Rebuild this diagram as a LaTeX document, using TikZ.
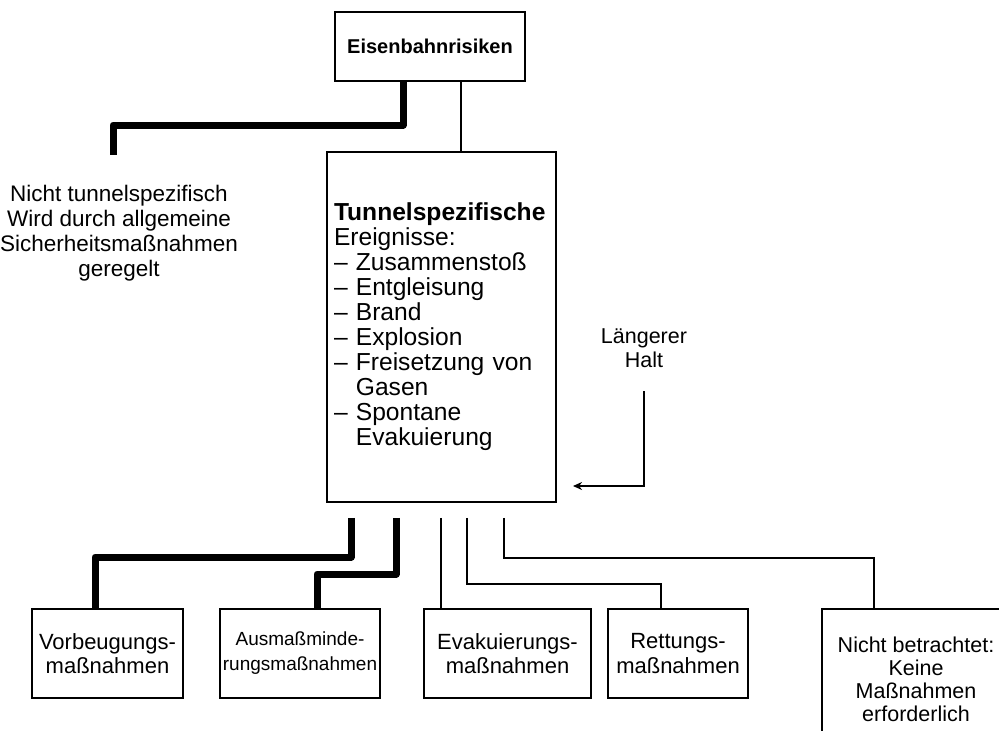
\documentclass[tikz,border=0pt]{standalone}
\usepackage{fontspec}
\setmainfont{Liberation Sans}
\usetikzlibrary{arrows.meta}

\begin{document}
\begin{tikzpicture}[x=1pt,y=-1pt,
    kasten/.style={draw,line width=1.6pt,inner sep=0pt,align=center,font=\fontsize{22}{24.5}\selectfont},
    duenn/.style={line width=1.6pt},
    dick/.style={line width=7pt,line join=round},
    pfeil/.style={line width=2.4pt,-{Stealth[length=9pt,width=8pt]}}]
      \clip (0,0) rectangle (999,731);
      \node[kasten,minimum width=190pt,minimum height=69pt,font=\fontsize{20}{24}\selectfont\bfseries] (risk) at (430,46.5) {Eisenbahnrisiken};
      \node[kasten,minimum width=229pt,minimum height=350pt,text width=215pt,align=left,font=\fontsize{24.6}{25}\selectfont] (tunnel) at (441.5,327)
        {\textbf{Tunnelspezifische}\\Ereignisse:\\– Zusammenstoß\\– Entgleisung\\– Brand\\– Explosion\\– Freisetzung von\\\hphantom{–\ }Gasen\\– Spontane\\\hphantom{–\ }Evakuierung};
      \node[align=center,font=\fontsize{22.5}{25}\selectfont] (links) at (119,233) {Nicht tunnelspezifisch\\Wird durch allgemeine\\Sicherheitsmaßnahmen\\geregelt};
      \node[align=center,font=\fontsize{21.5}{24}\selectfont] (halt) at (644,348) {Längerer\\Halt};
      \node[kasten,minimum width=151pt,minimum height=89pt] (vorb) at (107.5,653.5) {Vorbeugungs-\\maßnahmen};
      \node[kasten,minimum width=160pt,minimum height=89pt,font=\fontsize{19}{25}\selectfont] (ausm) at (300,653.5) {Ausmaßminde-\\rungsmaßnahmen};
      \node[kasten,minimum width=167pt,minimum height=89pt] (evak) at (507.5,653.5) {Evakuierungs-\\maßnahmen};
      \node[kasten,minimum width=140pt,minimum height=89pt] (rett) at (678,653.5) {Rettungs-\\maßnahmen};
      \node[kasten,minimum width=188pt,minimum height=140pt,font=\fontsize{21.5}{23}\selectfont] (nicht) at (916,679) {Nicht betrachtet:\\Keine\\Maßnahmen\\erforderlich};
      \coordinate (lend) at (113,155);
      \coordinate (ab) at ([yshift=-15pt]tunnel.south);
      \coordinate (pfeilende) at (573,486);
      \draw[dick] (risk.south -| 403,0) -- (403,125) -| (lend);
      \draw[duenn] (risk.south -| 461,0) -- (tunnel.north -| 461,0);
      \draw[dick] (ab -| 351,0) -- (351,557) -| (vorb.north -| 95,0);
      \draw[dick] (ab -| 396,0) -- (396,574) -| (ausm.north -| 317,0);
      \draw[duenn] (ab -| 441,0) -- (evak.north -| 441,0);
      \draw[duenn] (ab -| 467,0) -- (467,584) -| (rett.north -| 661,0);
      \draw[duenn] (ab -| 504,0) -- (504,558) -| (nicht.north -| 874,0);
      \draw[pfeil] ([yshift=-20pt]halt.south) |- (pfeilende);
    \end{tikzpicture}
\end{document}
